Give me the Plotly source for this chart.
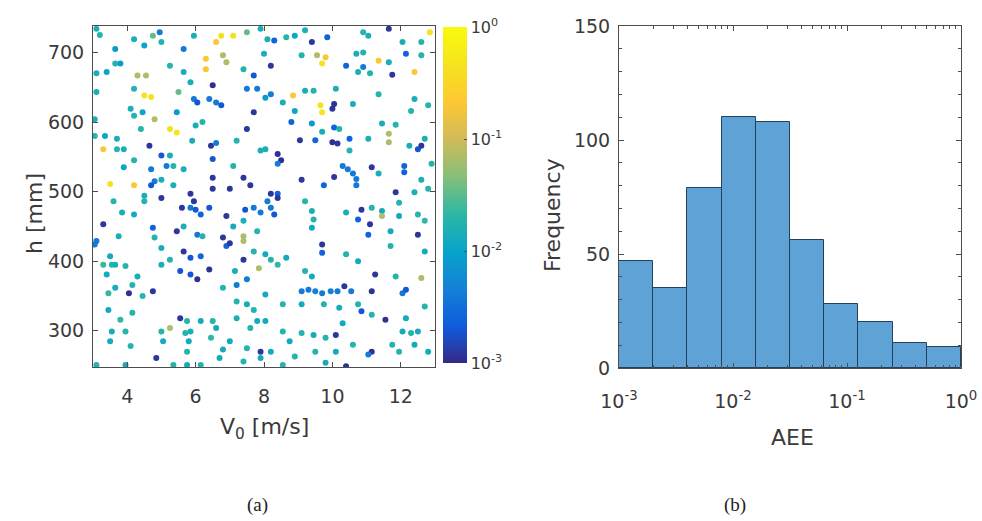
import numpy as np
import plotly.graph_objects as go

# ---------------- data: panel (a) scatter (V0 [m/s], h [mm], AEE) ----------------
V0 = [
    # upper-left
    3.1,3.2,3.65,4.2,4.5,4.75,4.95,5.0,5.65,5.95,
    6.6,6.75,7.1,7.5,7.9,6.3,6.8,6.9,3.8,3.65,
    3.1,3.4,4.3,4.55,5.25,5.65,6.3,6.5,5.85,7.4,
    7.7,7.5,7.8,3.1,4.2,4.5,4.7,5.5,5.95,6.05,
    6.4,6.6,6.75,4.1,4.2,4.45,4.8,5.45,5.25,5.45,
    6.0,6.2,7.7,7.5,3.05,3.05,3.35,3.7,4.4,5.9,
    6.45,6.6,7.2,4.65,3.9,3.7,3.3,5.0,5.25,5.35,
    5.15,6.5,7.9,4.2,3.9,4.7,5.65,7.1,6.5,7.4,
    4.8,5.0,3.5,4.2,4.7,5.35,6.5,7.0,7.6,5.85,
    4.5,
    # upper-right
    8.1,8.3,8.65,8.9,9.2,9.4,9.85,10.9,11.05,11.65,
    12.05,12.6,12.85,8.0,9.1,9.55,9.8,9.7,10.7,10.9,
    11.35,11.65,12.15,12.6,8.2,10.4,10.9,10.75,11.1,11.75,
    12.4,9.2,9.45,10.1,8.04,8.2,8.85,9.65,9.7,10.05,
    10.0,10.6,11.35,12.4,12.8,8.55,8.9,8.8,9.4,9.7,
    10.05,10.2,11.45,11.85,11.65,11.65,11.05,12.3,12.7,9.05,
    9.5,10.0,10.15,10.5,8.04,10.5,12.25,12.5,12.6,8.4,
    8.5,8.4,10.3,10.45,10.6,10.7,10.7,11.15,11.35,12.1,
    12.9,9.1,9.75,10.05,12.1,12.6,8.2,8.4,11.85,12.4,
    12.8,
    # lower-left
    3.1,3.05,3.3,3.6,3.85,4.2,4.5,5.0,3.75,4.75,
    4.8,5.0,5.6,5.85,6.0,6.4,5.95,6.15,5.65,5.45,
    6.05,6.2,6.9,7.1,7.45,7.7,7.9,7.4,6.8,6.9,
    7.0,7.4,7.4,7.8,5.65,5.85,6.15,5.25,5.0,5.55,
    5.85,6.05,6.4,3.5,3.55,3.3,3.65,3.95,3.4,4.3,
    4.15,3.65,3.45,4.05,4.45,4.75,7.15,7.4,7.7,7.85,
    7.2,7.5,6.8,3.45,4.15,3.8,3.55,3.95,3.5,4.1,
    4.85,5.0,5.25,5.05,5.7,5.85,5.8,5.55,5.75,6.15,
    6.5,6.6,6.45,7.2,7.5,7.7,7.2,7.8,7.6,7.0,
    7.5,6.8,5.75,7.9,7.9,3.1,3.95,5.35,5.75,6.15,
    6.7,7.4,
    # lower-right
    8.1,8.2,8.3,8.4,9.2,9.4,9.45,9.4,10.4,10.85,
    10.75,11.1,11.15,11.45,11.45,11.95,11.95,12.5,12.7,12.5,
    11.05,11.7,11.7,9.7,9.7,10.4,10.75,8.04,8.2,8.4,
    8.65,9.2,9.4,11.25,11.85,12.6,12.7,9.1,9.3,9.5,
    9.7,9.95,10.15,10.35,10.55,11.15,12.05,12.15,8.04,8.55,
    9.1,9.75,10.2,10.85,10.75,8.04,8.55,8.75,9.1,9.45,
    9.8,10.1,10.3,11.15,11.55,12.15,12.7,12.05,12.3,12.5,
    11.75,12.4,11.15,11.05,11.95,12.8,9.5,10.1,10.6,8.2,
    8.9,10.4,9.8,8.55,
]

H = [
    734,725,705,719,710,724,729,715,705,724,
    715,724,724,729,734,691,696,686,684,684,
    670,672,667,667,681,672,676,653,657,676,
    667,648,648,643,648,638,636,643,633,628,
    633,628,624,619,609,614,604,614,590,585,
    595,600,614,590,604,580,580,576,590,573,
    566,570,573,566,561,561,561,552,552,537,
    537,547,559,545,535,532,532,537,520,520,
    515,517,511,509,509,509,504,504,509,497,
    494,
    719,717,722,724,732,715,722,729,724,734,
    715,715,729,698,696,696,693,684,698,700,
    688,686,698,696,681,681,679,672,670,668,
    672,645,645,648,635,640,638,624,614,626,
    619,626,640,633,624,628,616,600,598,586,
    592,590,598,596,583,571,576,616,576,574,
    574,571,569,576,561,559,566,561,566,554,
    545,540,537,532,526,518,509,535,526,537,
    540,517,509,521,528,517,497,497,499,499,
    504,
    429,424,453,486,470,467,486,491,436,448,
    434,419,477,477,474,477,486,467,450,443,
    438,436,465,450,474,477,470,458,434,422,
    426,436,429,443,414,405,407,402,395,386,
    381,374,388,407,395,395,395,393,381,378,
    366,362,354,354,350,357,386,402,414,390,
    366,374,362,330,326,316,299,299,285,278,
    261,299,304,285,297,299,285,318,314,314,
    314,304,290,342,338,330,318,314,304,285,
    275,273,270,270,261,251,251,251,251,251,
    261,256,
    486,477,467,491,486,472,460,448,470,474,
    460,453,477,472,465,484,465,467,458,438,
    438,443,422,424,412,410,400,410,402,395,
    405,386,378,381,378,376,414,357,359,357,
    354,357,357,364,357,357,354,359,352,338,
    338,338,333,328,338,314,299,285,297,294,
    290,294,311,323,316,318,335,299,297,299,
    280,280,270,266,270,270,270,270,280,270,
    263,249,254,251,
]

AEE = [
    0.015,0.018,0.008,0.015,0.011,0.035,0.004,0.018,0.004,0.015,
    0.2,0.45,0.45,0.035,0.015,0.2,0.07,0.07,0.008,0.018,
    0.015,0.011,0.07,0.07,0.018,0.015,0.2,0.0011,0.015,0.018,
    0.002,0.004,0.004,0.015,0.018,0.45,0.45,0.035,0.004,0.002,
    0.004,0.004,0.002,0.015,0.018,0.011,0.07,0.008,0.45,0.5,
    0.015,0.018,0.0012,0.0012,0.015,0.018,0.011,0.015,0.018,0.015,
    0.0012,0.004,0.018,0.0012,0.015,0.018,0.2,0.002,0.015,0.018,
    0.004,0.002,0.015,0.018,0.011,0.004,0.015,0.018,0.0012,0.0012,
    0.004,0.015,0.45,0.2,0.002,0.015,0.0012,0.0012,0.0012,0.0012,
    0.015,
    0.015,0.0025,0.018,0.011,0.015,0.0012,0.0025,0.018,0.015,0.0012,
    0.015,0.018,0.45,0.015,0.018,0.07,0.2,0.45,0.015,0.018,
    0.2,0.015,0.0025,0.018,0.0012,0.0025,0.004,0.015,0.018,0.0012,
    0.2,0.015,0.018,0.015,0.008,0.004,0.2,0.45,0.5,0.0011,
    0.0012,0.015,0.018,0.015,0.018,0.015,0.011,0.0025,0.008,0.015,
    0.0025,0.018,0.015,0.018,0.07,0.07,0.015,0.018,0.015,0.0012,
    0.0025,0.0011,0.0012,0.0025,0.015,0.018,0.015,0.002,0.0012,0.0011,
    0.0011,0.004,0.004,0.004,0.004,0.004,0.004,0.0012,0.015,0.0025,
    0.018,0.0012,0.0025,0.0012,0.0025,0.015,0.0012,0.0025,0.0012,0.015,
    0.018,
    0.004,0.004,0.0012,0.018,0.015,0.013,0.018,0.0012,0.015,0.0025,
    0.018,0.015,0.0012,0.004,0.002,0.002,0.0012,0.0025,0.015,0.0012,
    0.004,0.018,0.0012,0.013,0.002,0.004,0.004,0.015,0.0012,0.0025,
    0.0012,0.07,0.07,0.018,0.0012,0.002,0.0025,0.018,0.015,0.002,
    0.002,0.0011,0.0011,0.013,0.018,0.022,0.015,0.018,0.013,0.015,
    0.018,0.013,0.022,0.0011,0.018,0.0012,0.015,0.0012,0.018,0.07,
    0.004,0.004,0.018,0.013,0.018,0.022,0.013,0.018,0.013,0.018,
    0.0012,0.018,0.07,0.013,0.018,0.015,0.013,0.0012,0.018,0.013,
    0.018,0.013,0.022,0.018,0.013,0.018,0.015,0.013,0.018,0.013,
    0.018,0.013,0.018,0.0012,0.013,0.018,0.013,0.018,0.013,0.018,
    0.013,0.018,
    0.004,0.004,0.002,0.0012,0.018,0.015,0.018,0.013,0.015,0.0012,
    0.0025,0.0012,0.018,0.013,0.07,0.018,0.013,0.018,0.022,0.0012,
    0.0025,0.013,0.018,0.0012,0.0025,0.018,0.013,0.013,0.018,0.022,
    0.013,0.018,0.013,0.0012,0.018,0.07,0.013,0.004,0.004,0.0045,
    0.004,0.0045,0.004,0.0012,0.004,0.0011,0.004,0.002,0.013,0.018,
    0.013,0.018,0.013,0.002,0.018,0.013,0.018,0.013,0.018,0.013,
    0.018,0.0012,0.013,0.018,0.0011,0.013,0.018,0.013,0.018,0.013,
    0.018,0.013,0.0011,0.004,0.018,0.013,0.018,0.013,0.018,0.013,
    0.018,0.0011,0.013,0.018,
]

# ---------------- data: panel (b) histogram of AEE ----------------
HIST_EDGES_LOG10 = [-3.0, -2.7, -2.4, -2.1, -1.8, -1.5, -1.2, -0.9, -0.6, -0.3, 0.0]
HIST_COUNTS = [47, 35, 79, 110, 108, 56, 28, 20, 11, 9]

# ---------------- tick labels ----------------
V_TICKS = [4, 6, 8, 10, 12]
H_TICKS = [300, 400, 500, 600, 700]
FREQ_TICKS = [0, 50, 100, 150]
DECADES = [-3, -2, -1, 0]
DECADE_LABELS = ["10<sup>-3</sup>", "10<sup>-2</sup>", "10<sup>-1</sup>", "10<sup>0</sup>"]

assert len(V0) == len(H) == len(AEE)

PARULA = [
    [0.000, "#352a87"], [0.111, "#0f5cdd"], [0.222, "#1481d6"],
    [0.333, "#06a4ca"], [0.444, "#2eb7a4"], [0.556, "#87bf77"],
    [0.667, "#d1bb59"], [0.778, "#fec832"], [0.889, "#f5e31e"],
    [1.000, "#f9fb0e"],
]

FONT = "DejaVu Sans, Arial, sans-serif"
TXT = "#3a3a3a"
AX = "#4d4d4d"
W, Hpx = 982, 521


def fx(px):
    return px / W


def fy(py):
    return 1 - py / Hpx


fig = go.Figure()

fig.add_trace(go.Scatter(
    x=V0, y=H, mode="markers", xaxis="x", yaxis="y",
    marker=dict(
        size=6, color=np.log10(AEE), colorscale=PARULA, cmin=-3, cmax=0,
        colorbar=dict(
            x=fx(443), xanchor="left", xpad=0, y=fy(195), yanchor="middle", ypad=0,
            len=336 / Hpx, lenmode="fraction", thickness=24, thicknessmode="pixels",
            tickvals=DECADES, ticktext=DECADE_LABELS, ticks="inside", ticklen=3,
            tickcolor=AX, outlinewidth=0,
            tickfont=dict(family=FONT, size=16, color=TXT),
        ),
    ),
    showlegend=False, hoverinfo="skip",
))

centers = [(a + b) / 2 for a, b in zip(HIST_EDGES_LOG10[:-1], HIST_EDGES_LOG10[1:])]
widths = [b - a for a, b in zip(HIST_EDGES_LOG10[:-1], HIST_EDGES_LOG10[1:])]
fig.add_trace(go.Bar(
    x=centers, y=HIST_COUNTS, width=widths, xaxis="x2", yaxis="y2",
    marker=dict(color="#5fa3d6", line=dict(color="#23405c", width=1)),
    showlegend=False, hoverinfo="skip",
))

axis_common = dict(
    showgrid=False, zeroline=False, showline=True, linecolor=AX, linewidth=1,
    mirror="allticks", ticks="inside", ticklen=5, tickcolor=AX, automargin=False,
    tickfont=dict(family=FONT, size=19, color=TXT),
)

minor_vals = [d + np.log10(k) for d in [-3, -2, -1] for k in range(2, 10)]

fig.update_layout(
    width=W, height=Hpx, margin=dict(l=0, r=0, t=0, b=0, autoexpand=False),
    paper_bgcolor="white", plot_bgcolor="white",
    xaxis=dict(domain=[fx(93), fx(435)], range=[3, 13], tickvals=V_TICKS,
               ticklabelstandoff=12, anchor="y", **axis_common),
    yaxis=dict(domain=[fy(367), fy(26)], range=[248, 738], tickvals=H_TICKS,
               ticklabelstandoff=4, anchor="x", **axis_common),
    xaxis2=dict(domain=[fx(619), fx(961)], range=[-3, 0], tickvals=DECADES,
                ticktext=DECADE_LABELS, ticklabelstandoff=16, anchor="y2",
                minor=dict(tickvals=minor_vals, ticks="inside", ticklen=3, tickcolor=AX),
                **axis_common),
    yaxis2=dict(domain=[fy(368), fy(26)], range=[0, 150], tickvals=FREQ_TICKS,
                ticklabelstandoff=4, anchor="x2",
                minor=dict(dtick=10, ticks="inside", ticklen=3, tickcolor=AX),
                **axis_common),
    bargap=0,
)

ann = [
    dict(text="V<sub>0</sub> [m/s]", x=fx(264), y=fy(428)),
    dict(text="h [mm]", x=fx(34), y=fy(214), textangle=-90),
    dict(text="AEE", x=fx(792), y=fy(437)),
    dict(text="Frequency", x=fx(552), y=fy(215), textangle=-90),
]
for a in ann:
    fig.add_annotation(xref="paper", yref="paper", showarrow=False,
                       xanchor="center", yanchor="middle",
                       font=dict(family=FONT, size=22, color=TXT), **a)

for t, x in [("(a)", 257), ("(b)", 735)]:
    fig.add_annotation(text=t, xref="paper", yref="paper", x=fx(x), y=fy(505),
                       showarrow=False, xanchor="center", yanchor="middle",
                       font=dict(family="Liberation Serif, Times New Roman, serif",
                                 size=19, color="#222"))

fig.write_html("out.html")
